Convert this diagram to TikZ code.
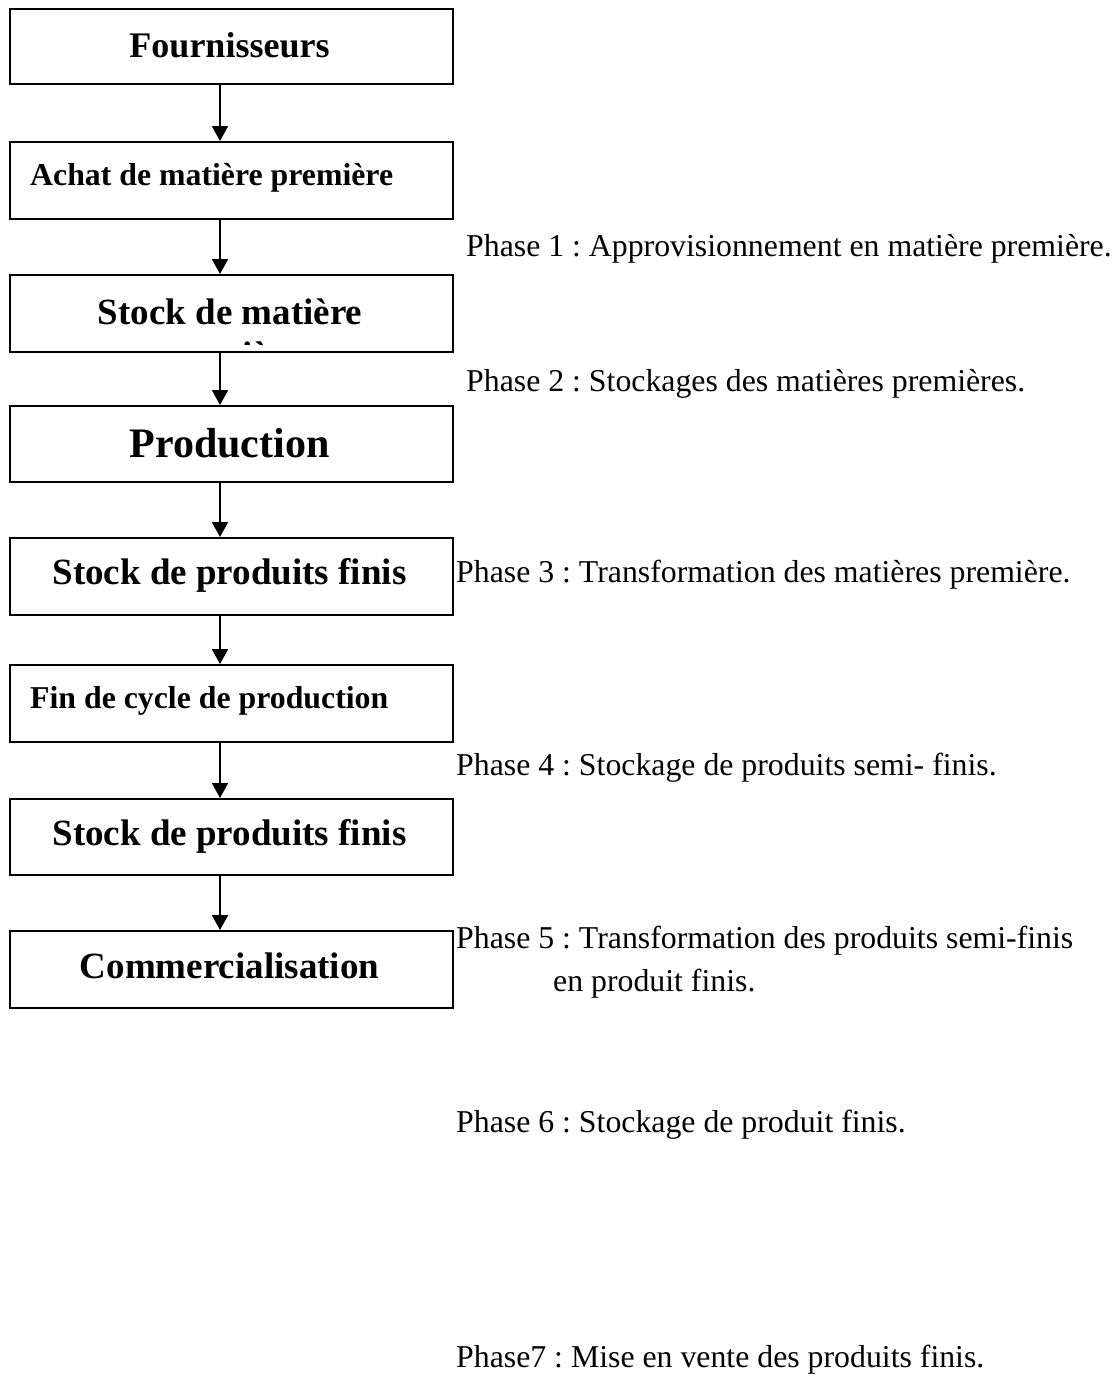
\documentclass[tikz,border=0pt]{standalone}
\usepackage{fontspec}
\setmainfont{Liberation Serif}
\usetikzlibrary{arrows.meta}
\newcommand\fsz[1]{\fontsize{#1pt}{#1pt}\selectfont}
\frenchspacing
\begin{document}
\begin{tikzpicture}[x=1pt,y=-1pt,
  box/.style={draw=black,line width=2pt,anchor=north west,minimum width=443pt,inner sep=0pt},
  head/.style={inner sep=0pt,anchor=base,font=\bfseries},
  headl/.style={inner sep=0pt,anchor=base west,font=\bfseries\fsz{31.8}},
  phase/.style={inner sep=0pt,anchor=base west,font=\fsz{31.8}},
  arr/.style={line width=2pt,-{Triangle[width=16pt,length=15pt]}}]
\useasboundingbox (0,0) rectangle (1118,1376);
\coordinate (ax) at (220,0);
% boxes
\node[box,minimum height=75pt] (b1) at (9,8) {};
\node[box,minimum height=77pt] (b2) at (9,141) {};
\node[box,minimum height=77pt] (b3) at (9,274) {};
\node[box,minimum height=76pt] (b4) at (9,405) {};
\node[box,minimum height=77pt] (b5) at (9,537) {};
\node[box,minimum height=77pt] (b6) at (9,664) {};
\node[box,minimum height=76pt] (b7) at (9,798) {};
\node[box,minimum height=77pt] (b8) at (9,930) {};
% box texts
\node[head,font=\bfseries\fsz{36}] (t1) at (229.5,57) {Fournisseurs};
\node[headl] (t2) at (30,185) {Achat de matière première};
\begin{scope}
\clip (12,277) rectangle (449,344);
\node[head,font=\bfseries\fsz{37}] (t3) at (230,324) {Stock de matière};
\node[head,font=\bfseries\fsz{37}] (t3b) at (230,367) {première};
\end{scope}
\node[head,font=\bfseries\fsz{42}] (t4) at (229.5,457) {Production};
\node[head,font=\bfseries\fsz{37}] (t5) at (229.5,584) {Stock de produits finis};
\node[headl] (t6) at (30,708) {Fin de cycle de production};
\node[head,font=\bfseries\fsz{37}] (t7) at (229.5,845) {Stock de produits finis};
\node[head,font=\bfseries\fsz{37}] (t8) at (229.5,978) {Commercialisation};
% arrows
\draw[arr] (b1.south -| ax) -- (b2.north -| ax);
\draw[arr] (b2.south -| ax) -- (b3.north -| ax);
\draw[arr] (b3.south -| ax) -- (b4.north -| ax);
\draw[arr] (b4.south -| ax) -- (b5.north -| ax);
\draw[arr] (b5.south -| ax) -- (b6.north -| ax);
\draw[arr] (b6.south -| ax) -- (b7.north -| ax);
\draw[arr] (b7.south -| ax) -- (b8.north -| ax);
% phases
\node[phase] (p1) at (466,256) {Phase 1 : Approvisionnement en matière première.};
\node[phase] (p2) at (466,391) {Phase 2 : Stockages des matières premières.};
\node[phase] (p3) at (456,582) {Phase 3 : Transformation des matières première.};
\node[phase] (p4) at (456,775) {Phase 4 : Stockage de produits semi- finis.};
\node[phase] (p5) at (456,948) {Phase 5 : Transformation des produits semi-finis};
\node[phase] (p5b) at (553,991) {en produit finis.};
\node[phase] (p6) at (456,1132) {Phase 6 : Stockage de produit finis.};
\node[phase] (p7) at (456,1367) {Phase7 : Mise en vente des produits finis.};
\end{tikzpicture}
\end{document}
